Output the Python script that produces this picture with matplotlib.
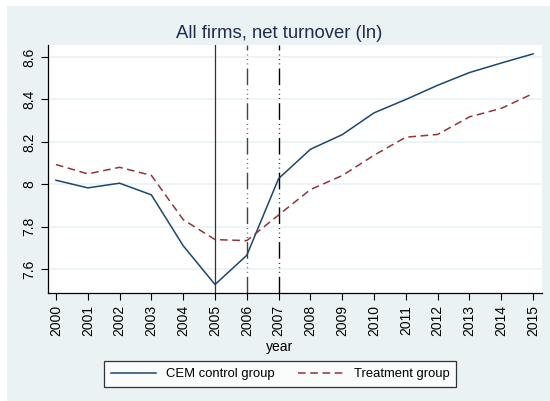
import matplotlib
matplotlib.use('Agg')
import matplotlib.pyplot as plt
from matplotlib.patches import Rectangle

plt.rcParams['font.family'] = ['Liberation Sans', 'DejaVu Sans']

# Данные
years = list(range(2000, 2016))
control = [8.019, 7.983, 8.005, 7.950, 7.710, 7.527, 7.665, 8.027,
           8.165, 8.234, 8.337, 8.400, 8.467, 8.527, 8.572, 8.615]
treatment = [8.093, 8.049, 8.080, 8.042, 7.833, 7.739, 7.734, 7.855,
             7.975, 8.041, 8.137, 8.222, 8.235, 8.318, 8.358, 8.428]
yticks = [7.6, 7.8, 8.0, 8.2, 8.4, 8.6]
ytick_labels = ['7.6', '7.8', '8', '8.2', '8.4', '8.6']
event_years = [2005, 2006, 2007]

W, H = 550, 401
bg = '#eaf2f3'
fig = plt.figure(figsize=(W / 100, H / 100), dpi=100, facecolor='white')
fig.patches.append(Rectangle((7 / W, 0), 1 - 7 / W, 1 - 6 / H,
                             transform=fig.transFigure, facecolor=bg,
                             edgecolor='none', zorder=-10))

left, right, top, bottom = 48, 542, 45, 293
ax = fig.add_axes([left / W, 1 - bottom / H, (right - left) / W, (bottom - top) / H])
ax.set_facecolor('white')

ax.plot(years, control, color='#1a476f', linewidth=1.1, label='CEM control group', zorder=3)
ax.plot(years, treatment, color='#90353b', linewidth=1.1, linestyle=(0, (5, 3)),
        label='Treatment group', zorder=3)

# вертикальные линии
ax.axvline(event_years[0], color='#333333', linewidth=0.9, zorder=2)
dashdots = (0, (12, 3, 0.6, 2.6, 0.6, 2.6, 0.6, 3))
ax.axvline(event_years[1], color='#444444', linewidth=1.0, linestyle=dashdots, zorder=2)
ax.axvline(event_years[2], color='black', linewidth=1.0, linestyle=dashdots, zorder=2)

ax.set_xlim(1999.75, 2015.28)
ax.set_ylim(7.487, 8.657)

ax.set_yticks(yticks)
ax.set_yticklabels(ytick_labels, rotation=90, va='center')
ax.set_xticks(years)
ax.set_xticklabels([str(y) for y in years], rotation=90)
ax.tick_params(axis='both', labelsize=10, length=5, width=0.8, colors='black')
ax.grid(True, axis='y', color=bg, linewidth=1.2)
ax.set_axisbelow(True)

for side in ['top', 'right']:
    ax.spines[side].set_visible(False)
for side in ['left', 'bottom']:
    ax.spines[side].set_linewidth(0.9)

ax.set_xlabel('year', fontsize=10)
ax.xaxis.set_label_coords((279.5 - left) / (right - left), -(347 - bottom) / (bottom - top))
ax.xaxis.label.set_va('center')
fig.text(279.5 / W, 1 - 33 / H, 'All firms, net turnover (ln)', fontsize=13.3,
         color='#1e2d4f', ha='center', va='center')

leg = fig.legend(loc='center', bbox_to_anchor=(280 / W, 1 - 374 / H), ncol=2,
                 fontsize=9.4, frameon=True, fancybox=False, handlelength=3.5,
                 handletextpad=0.77, columnspacing=1.77, borderpad=0.5,
                 borderaxespad=0)
leg.get_frame().set_edgecolor('black')
leg.get_frame().set_linewidth(0.9)

plt.savefig('out.png', dpi=100, facecolor='white')
plt.close()
